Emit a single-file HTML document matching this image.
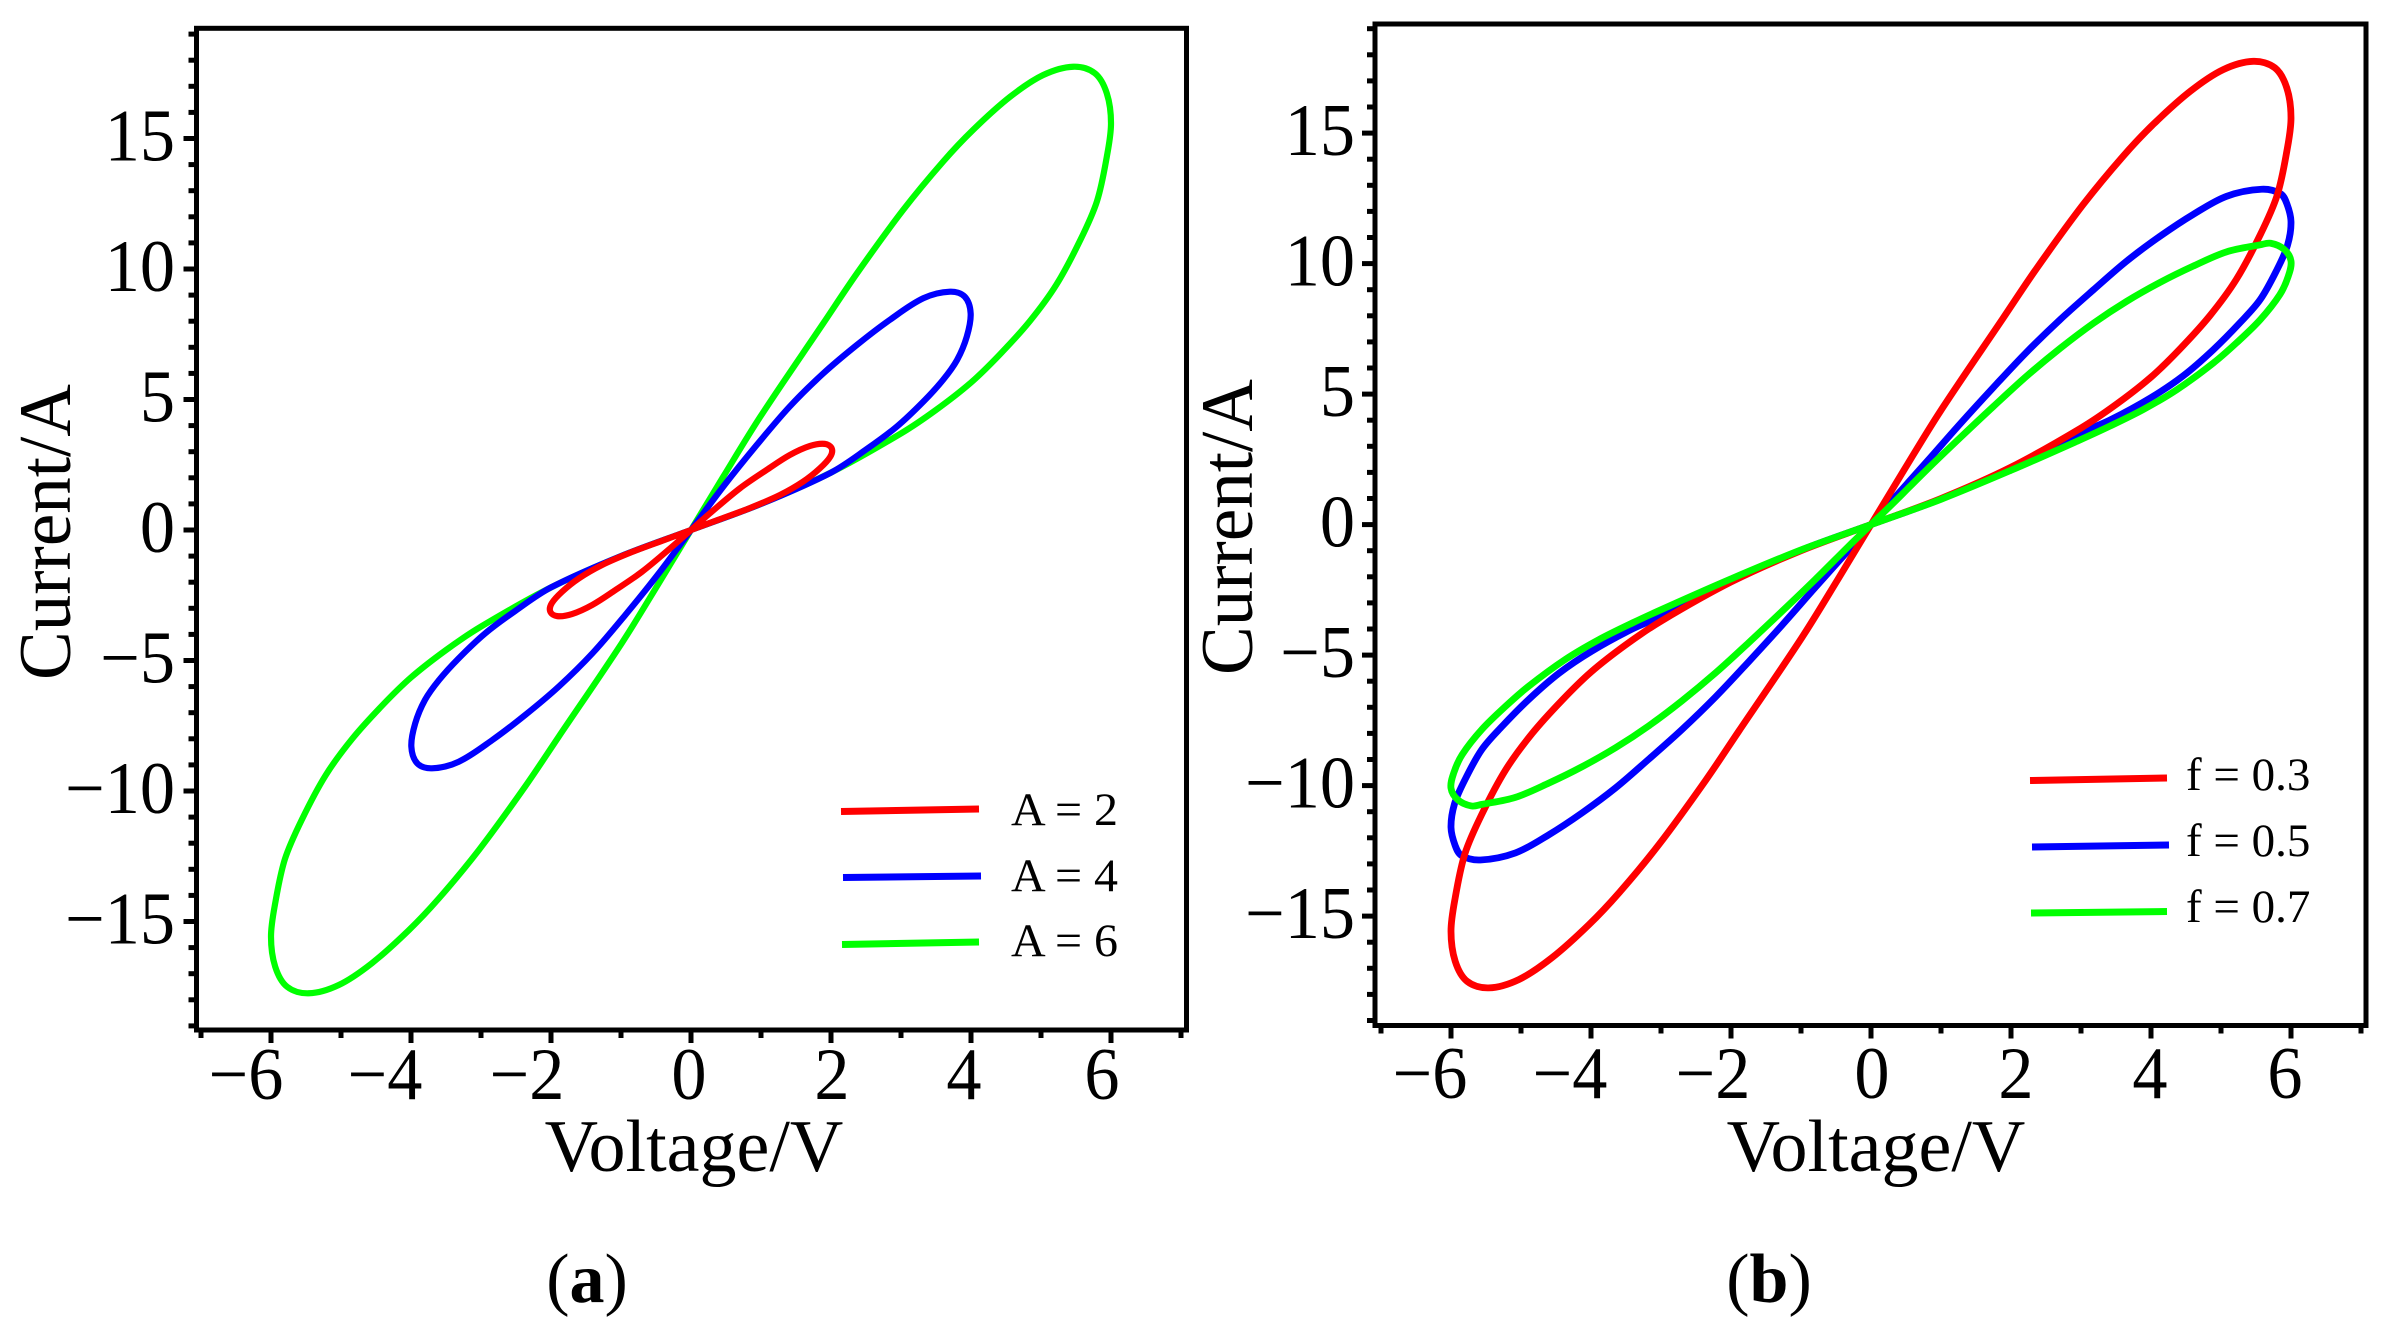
<!DOCTYPE html>
<html lang="en">
<head>
<meta charset="utf-8">
<title>Current-voltage hysteresis loops</title>
<style>
html,body{margin:0;padding:0;background:#fff;width:2401px;height:1329px;overflow:hidden}
svg{display:block}
text{font-family:"Liberation Serif",serif;fill:#000}
</style>
</head>
<body>
<svg id="figure" xmlns="http://www.w3.org/2000/svg" width="2401" height="1329" viewBox="0 0 2401 1329">
<rect x="0" y="0" width="2401" height="1329" fill="#fff"/>
<g id="panel-a"></g>
<g id="panel-b"></g>

<g>
<path d="M841 811.5L979 809" stroke="#f00" stroke-width="7" fill="none"/>
<path d="M843 877.5L981 876" stroke="#00f" stroke-width="7" fill="none"/>
<path d="M842 944.5L979 942" stroke="#0f0" stroke-width="7" fill="none"/>
<text x="1011" y="825" font-size="47" textLength="107" lengthAdjust="spacingAndGlyphs">A = 2</text>
<text x="1011" y="891" font-size="47" textLength="107" lengthAdjust="spacingAndGlyphs">A = 4</text>
<text x="1011" y="956" font-size="47" textLength="107" lengthAdjust="spacingAndGlyphs">A = 6</text>
</g>
<g>
<path d="M2030 780.5L2167 778" stroke="#f00" stroke-width="7" fill="none"/>
<path d="M2032 847L2169 845" stroke="#00f" stroke-width="7" fill="none"/>
<path d="M2031 913L2167 911.5" stroke="#0f0" stroke-width="7" fill="none"/>
<text x="2186" y="790" font-size="47">f = 0.3</text>
<text x="2186" y="856" font-size="47">f = 0.5</text>
<text x="2186" y="922" font-size="47">f = 0.7</text>
</g>

<text x="587" y="1302" font-size="70" text-anchor="middle">(<tspan font-weight="bold">a</tspan>)</text>
<text x="1769" y="1302" font-size="70" text-anchor="middle">(<tspan font-weight="bold">b</tspan>)</text>
</svg>

<script>
// Tick values and labels
const xMajorTicks = [-6, -4, -2, 0, 2, 4, 6];
const xTickLabels = ['\u22126', '\u22124', '\u22122', '0', '2', '4', '6'];
const xMinorTicks = [-7, -5, -3, -1, 1, 3, 5, 7];
const yMajorTicks = [-15, -10, -5, 0, 5, 10, 15];
const yTickLabels = ['\u221215', '\u221210', '\u22125', '0', '5', '10', '15'];
const yMinorTicks = [-19, -18, -17, -16, -14, -13, -12, -11, -9, -8, -7, -6, -4, -3, -2, -1, 1, 2, 3, 4, 6, 7, 8, 9, 11, 12, 13, 14, 16, 17, 18, 19];

// Panel (a): A = 2
const voltageA2 = [0, .27, .70, 1.08, 1.41, 1.70, 1.91, 2.01, 1.99, 1.84, 1.60, 1.27, .84, .40, 0, -.40, -.84, -1.27, -1.60, -1.84, -1.99, -2.01, -1.91, -1.70, -1.41, -1.08, -.70, -.27];
const currentA2 = [0, .64, 1.60, 2.30, 2.87, 3.22, 3.30, 3.13, 2.81, 2.36, 1.85, 1.34, .84, .40, 0, -.40, -.84, -1.34, -1.85, -2.36, -2.81, -3.13, -3.30, -3.22, -2.87, -2.30, -1.60, -.64];

// Panel (a): A = 4
const voltageA4 = [0, .46, .94, 1.41, 1.89, 2.37, 2.84, 3.32, 3.70, 3.91, 3.995, 3.94, 3.80, 3.60, 3.32, 2.94, 2.51, 2, 1, 0, -1, -2, -2.51, -2.94, -3.32, -3.60, -3.80, -3.94, -3.995, -3.91, -3.70, -3.32, -2.84, -2.37, -1.89, -1.41, -.94, -.46];
const currentA4 = [0, 1.66, 3.26, 4.73, 6.00, 7.09, 8.05, 8.88, 9.13, 8.94, 8.30, 7.41, 6.51, 5.75, 4.92, 3.96, 3.10, 2.20, 1, 0, -1, -2.20, -3.10, -3.96, -4.92, -5.75, -6.51, -7.41, -8.30, -8.94, -9.13, -8.88, -8.05, -7.09, -6.00, -4.73, -3.26, -1.66];

// Panel (a): A = 6
const voltageA6 = [0, .46, .99, 1.89, 2.37, 3.03, 3.60, 4.03, 4.56, 5.03, 5.46, 5.77, 5.94, 6.00, 5.94, 5.80, 5.56, 5.22, 4.84, 4.41, 4, 3.5, 3, 2, 1, 0, -1, -2, -3, -3.5, -4, -4.41, -4.84, -5.22, -5.56, -5.80, -5.94, -6.00, -5.94, -5.77, -5.46, -5.03, -4.56, -4.03, -3.60, -3.03, -2.37, -1.89, -.99, -.46];
const currentA6 = [0, 2.04, 4.34, 7.92, 9.83, 12.26, 14.11, 15.33, 16.60, 17.43, 17.75, 17.50, 16.73, 15.58, 14.30, 12.60, 11.10, 9.40, 8.00, 6.72, 5.65, 4.60, 3.70, 2.20, 1, 0, -1, -2.20, -3.70, -4.60, -5.65, -6.72, -8.00, -9.40, -11.10, -12.60, -14.30, -15.58, -16.73, -17.50, -17.75, -17.43, -16.60, -15.33, -14.11, -12.26, -9.83, -7.92, -4.34, -2.04];

// Panel (b): f = 0.3
const voltageF3 = [0, .46, .99, 1.89, 2.37, 3.03, 3.60, 4.03, 4.56, 5.03, 5.46, 5.77, 5.94, 6.00, 5.94, 5.80, 5.56, 5.22, 4.84, 4.41, 4, 3.5, 3, 2, 1, 0, -1, -2, -3, -3.5, -4, -4.41, -4.84, -5.22, -5.56, -5.80, -5.94, -6.00, -5.94, -5.77, -5.46, -5.03, -4.56, -4.03, -3.60, -3.03, -2.37, -1.89, -.99, -.46];
const currentF3 = [0, 2.04, 4.34, 7.92, 9.83, 12.26, 14.11, 15.33, 16.60, 17.43, 17.75, 17.50, 16.73, 15.58, 14.30, 12.60, 11.10, 9.40, 8.00, 6.72, 5.65, 4.60, 3.70, 2.20, 1, 0, -1, -2.20, -3.70, -4.60, -5.65, -6.72, -8.00, -9.40, -11.10, -12.60, -14.30, -15.58, -16.73, -17.50, -17.75, -17.43, -16.60, -15.33, -14.11, -12.26, -9.83, -7.92, -4.34, -2.04];

// Panel (b): f = 0.5
const voltageF5 = [0, .32, .80, 1.27, 1.75, 2.22, 2.70, 3.18, 3.65, 4.13, 4.60, 5.08, 5.58, 5.85, 5.94, 6.00, 5.95, 5.80, 5.56, 5.27, 4.89, 4.46, 3.99, 3.41, 2.94, 2, 1, 0, -1, -2, -2.94, -3.41, -3.99, -4.46, -4.89, -5.27, -5.56, -5.80, -5.95, -6.00, -5.94, -5.85, -5.58, -5.08, -4.60, -4.13, -3.65, -3.18, -2.70, -2.22, -1.75, -1.27, -.80, -.32];
const currentF5 = [0, .98, 2.42, 3.85, 5.26, 6.60, 7.85, 9.00, 10.09, 11.05, 11.88, 12.58, 12.85, 12.68, 12.30, 11.60, 10.70, 9.77, 8.62, 7.73, 6.70, 5.70, 4.85, 4.00, 3.45, 2.15, .98, 0, -.98, -2.15, -3.45, -4.00, -4.85, -5.70, -6.70, -7.73, -8.62, -9.77, -10.70, -11.60, -12.30, -12.68, -12.85, -12.58, -11.88, -11.05, -10.09, -9.00, -7.85, -6.60, -5.26, -3.85, -2.42, -.98];

// Panel (b): f = 0.7
const voltageF7 = [0, .32, .80, 1.27, 1.75, 2.22, 2.70, 3.18, 3.65, 4.13, 4.60, 5.08, 5.56, 5.71, 5.90, 6.00, 5.96, 5.84, 5.56, 5.22, 4.89, 4.37, 3.89, 3.41, 2.94, 2, 1, 0, -1, -2, -2.94, -3.41, -3.89, -4.37, -4.89, -5.22, -5.56, -5.84, -5.96, -6.00, -5.90, -5.71, -5.56, -5.08, -4.60, -4.13, -3.65, -3.18, -2.70, -2.22, -1.75, -1.27, -.80, -.32];
const currentF7 = [0, .83, 2.11, 3.32, 4.53, 5.68, 6.75, 7.72, 8.55, 9.28, 9.90, 10.45, 10.72, 10.78, 10.55, 10.10, 9.51, 8.81, 7.85, 6.96, 6.19, 5.17, 4.41, 3.77, 3.19, 2.08, .97, 0, -.97, -2.08, -3.19, -3.77, -4.41, -5.17, -6.19, -6.96, -7.85, -8.81, -9.51, -10.10, -10.55, -10.78, -10.72, -10.45, -9.90, -9.28, -8.55, -7.72, -6.75, -5.68, -4.53, -3.32, -2.11, -.83];

const SVG_NS = 'http://www.w3.org/2000/svg';

function makeScales(layout) {
  return {
    x: function (v) { return layout.x0 + v * 70; },
    y: function (i) { return layout.y0 - i * 26.1; }
  };
}

function unitTangent(a, b) {
  const dx = b[0] - a[0];
  const dy = b[1] - a[1];
  const len = Math.hypot(dx, dy) || 1;
  return [dx / len, dy / len];
}

function closedSpline(points) {
  const n = points.length;
  let d = 'M' + points[0][0].toFixed(2) + ' ' + points[0][1].toFixed(2);
  for (let k = 0; k < n; k++) {
    const p0 = points[(k - 1 + n) % n];
    const p1 = points[k];
    const p2 = points[(k + 1) % n];
    const p3 = points[(k + 2) % n];
    const seg = Math.hypot(p2[0] - p1[0], p2[1] - p1[1]) / 3;
    const t1 = unitTangent(p0, p2);
    const t2 = unitTangent(p1, p3);
    const c1x = p1[0] + t1[0] * seg;
    const c1y = p1[1] + t1[1] * seg;
    const c2x = p2[0] - t2[0] * seg;
    const c2y = p2[1] - t2[1] * seg;
    d += 'C' + c1x.toFixed(2) + ' ' + c1y.toFixed(2) + ' ' + c2x.toFixed(2) + ' ' + c2y.toFixed(2) + ' ' + p2[0].toFixed(2) + ' ' + p2[1].toFixed(2);
  }
  return d + 'Z';
}

function addLine(parent, name, x1, y1, x2, y2, width) {
  const el = document.createElementNS(SVG_NS, 'line');
  
  
  el.setAttribute('x1', x1);
  el.setAttribute('y1', y1);
  el.setAttribute('x2', x2);
  el.setAttribute('y2', y2);
  el.setAttribute('stroke', '#000');
  el.setAttribute('stroke-width', width);
  parent.appendChild(el);
}

function addText(parent, name, x, y, size, anchor, content) {
  const el = document.createElementNS(SVG_NS, 'text');
  
  
  el.setAttribute('x', x);
  el.setAttribute('y', y);
  el.setAttribute('font-size', size);
  el.setAttribute('text-anchor', anchor);
  el.textContent = content;
  parent.appendChild(el);
  return el;
}

function addTickLabel(parent, name, x, y, anchor, content) {
  const el = addText(parent, name, 0, 0, 74, anchor, content);
  el.setAttribute('transform', 'translate(' + x + ' ' + y + ') scale(.95 1)');
  return el;
}

function addCurve(parent, name, voltages, currents, color, scale, width) {
  const points = voltages.map(function (v, k) { return [scale.x(v), scale.y(currents[k])]; });
  const el = document.createElementNS(SVG_NS, 'path');
  
  
  el.setAttribute('d', closedSpline(points));
  el.setAttribute('fill', 'none');
  el.setAttribute('stroke', color);
  el.setAttribute('stroke-width', width);
  el.setAttribute('stroke-linejoin', 'round');
  parent.appendChild(el);
}

function drawPanel(groupId, layout, series) {
  const g = document.getElementById(groupId);
  const scale = makeScales(layout);

  xMinorTicks.forEach(function (v) {
    addLine(g, 'x-minor-tick', scale.x(v), layout.bottom, scale.x(v), layout.bottom + 8, 5);
  });
  xMajorTicks.forEach(function (v, k) {
    addLine(g, 'x-major-tick', scale.x(v), layout.bottom, scale.x(v), layout.bottom + 13, 5);
    addTickLabel(g, 'x-tick-label', scale.x(v) + layout.xLabelShift[k], layout.xLabelBaseline, 'middle', xTickLabels[k]);
  });
  yMinorTicks.forEach(function (i) {
    addLine(g, 'y-minor-tick', layout.left, scale.y(i), layout.left - 8, scale.y(i), 5);
  });
  yMajorTicks.forEach(function (i, k) {
    addLine(g, 'y-major-tick', layout.left, scale.y(i), layout.left - 13, scale.y(i), 5);
    addTickLabel(g, 'y-tick-label', layout.tickRight, scale.y(i) + 22, 'end', yTickLabels[k]);
  });

  series.forEach(function (s) {
    addCurve(g, s.name, s.v, s.i, s.color, scale, layout.curveWidth);
  });

  const frame = document.createElementNS(SVG_NS, 'rect');
  
  
  frame.setAttribute('x', layout.left);
  frame.setAttribute('y', layout.top);
  frame.setAttribute('width', layout.right - layout.left);
  frame.setAttribute('height', layout.bottom - layout.top);
  frame.setAttribute('fill', 'none');
  frame.setAttribute('stroke', '#000');
  frame.setAttribute('stroke-width', '5');
  g.appendChild(frame);

  addText(g, 'x-axis-title', layout.titleX, 1171, 74, 'middle', 'Voltage/V');

  const yTitle = addText(g, 'y-axis-title', 0, 0, 74, 'middle', 'Current/A');
  yTitle.setAttribute('transform', 'translate(' + layout.yTitleX + ' ' + layout.yTitleY + ') rotate(-90)');
  yTitle.setAttribute('textLength', '296');
  yTitle.setAttribute('lengthAdjust', 'spacingAndGlyphs');
}

drawPanel('panel-a',
  { x0: 691, y0: 530, left: 196.5, right: 1186.5, top: 28.3, bottom: 1030, tickRight: 175, xLabelBaseline: 1099, yTitleX: 70, yTitleY: 532, titleX: 694, curveWidth: 6.2, xLabelShift: [-25, -26, -24, -2, 1, -7, -9] },
  [
    { name: 'curve-a-6', v: voltageA6, i: currentA6, color: '#0f0' },
    { name: 'curve-a-4', v: voltageA4, i: currentA4, color: '#00f' },
    { name: 'curve-a-2', v: voltageA2, i: currentA2, color: '#f00' }
  ]);

drawPanel('panel-b',
  { x0: 1871, y0: 524.6, left: 1375, right: 2366, top: 24, bottom: 1025.5, tickRight: 1355, xLabelBaseline: 1098, yTitleX: 1252, yTitleY: 527, titleX: 1876, curveWidth: 6.8, xLabelShift: [-21, -21, -18, 1, 5, -1, -6] },
  [
    { name: 'curve-f-0-5', v: voltageF5, i: currentF5, color: '#00f' },
    { name: 'curve-f-0-3', v: voltageF3, i: currentF3, color: '#f00' },
    { name: 'curve-f-0-7', v: voltageF7, i: currentF7, color: '#0f0' }
  ]);
</script>
</body>
</html>
